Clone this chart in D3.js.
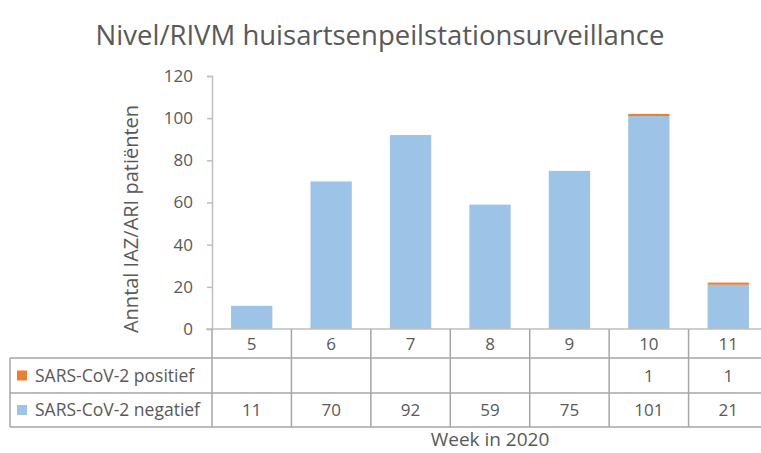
<!DOCTYPE html>
<html><head><meta charset="utf-8">
<script src="https://cdn.jsdelivr.net/npm/d3@7"></script>
<style>body{margin:0;background:#fff;} svg{display:block;} text{font-family:"Open Sans",sans-serif;fill:#595959;}</style>
</head><body><svg id="c" width="761" height="453"></svg>
<script>
const weeks = ["5","6","7","8","9","10","11"];
const positief = [0,0,0,0,0,1,1];
const negatief = [11,70,92,59,75,101,21];
const yTicks = [0,20,40,60,80,100,120];
const seriesNames = ["SARS-CoV-2 positief","SARS-CoV-2 negatief"];
const colors = {pos:"#ED7D31", neg:"#9DC3E6"};

(function(){
const svg = d3.select("#c");
const pL = 212, pR = 768, pT = 76, pB = 329;
const x = d3.scaleBand().domain(weeks).range([pL, pR]).paddingInner(0).paddingOuter(0);
const y = d3.scaleLinear().domain([0,120]).range([pB, pT]);
const bw = x.bandwidth()*0.52;

svg.append("text").attr("x",380).attr("y",45).attr("text-anchor","middle")
  .style("font-size","27.5px").text("Nivel/RIVM huisartsenpeilstationsurveillance");

const g = svg.append("g");
weeks.forEach((w,i)=>{
  const cx = x(w)+x.bandwidth()/2;
  g.append("rect").attr("x",cx-bw/2).attr("width",bw)
    .attr("y",y(negatief[i])).attr("height",y(0)-y(negatief[i])).attr("fill",colors.neg);
  if(positief[i]>0){
    g.append("rect").attr("x",cx-bw/2).attr("width",bw)
      .attr("y",y(negatief[i]+positief[i])).attr("height",y(negatief[i])-y(negatief[i]+positief[i])).attr("fill",colors.pos);
  }
});

const ya = svg.append("g").attr("transform",`translate(${pL},0)`)
  .call(d3.axisLeft(y).tickValues(yTicks).tickSize(5).tickPadding(14));
ya.select(".domain").attr("stroke","#bfbfbf").attr("stroke-width",1.5);
ya.selectAll(".tick line").attr("stroke","#bfbfbf").attr("stroke-width",1.5);
ya.selectAll(".tick text").style("font-size","17px").attr("fill","#595959").style("font-family","'Open Sans',sans-serif");

svg.append("text").attr("transform","translate(138,219) rotate(-90)").attr("text-anchor","middle")
  .style("font-size","20px").text("Anntal IAZ/ARI patiënten");

const rows = [329, 358, 393, 427];
const lineC = "#a6a6a6";
const tg = svg.append("g");
tg.append("line").attr("x1",206).attr("x2",pR).attr("y1",rows[0]).attr("y2",rows[0]).attr("stroke","#bfbfbf").attr("stroke-width",1.5);
[1,2,3].forEach(k=>{
  tg.append("line").attr("x1",10).attr("x2",pR).attr("y1",rows[k]).attr("y2",rows[k]).attr("stroke",lineC).attr("stroke-width",1.5);
});
tg.append("line").attr("x1",10).attr("x2",10).attr("y1",rows[1]).attr("y2",rows[3]).attr("stroke",lineC).attr("stroke-width",1.5);
weeks.concat(["_end"]).forEach((w,i)=>{
  const xx = i<weeks.length ? x(w) : pR;
  tg.append("line").attr("x1",xx).attr("x2",xx).attr("y1",rows[0]).attr("y2",rows[3]).attr("stroke",lineC).attr("stroke-width",1.5);
});
weeks.forEach((w,i)=>{
  const cx = x(w)+x.bandwidth()/2;
  tg.append("text").attr("x",cx).attr("y",(rows[0]+rows[1])/2+6).attr("text-anchor","middle").style("font-size","17px").text(w);
  if(positief[i]>0) tg.append("text").attr("x",cx).attr("y",(rows[1]+rows[2])/2+6).attr("text-anchor","middle").style("font-size","17px").text(positief[i]);
  tg.append("text").attr("x",cx).attr("y",(rows[2]+rows[3])/2+6).attr("text-anchor","middle").style("font-size","17px").text(negatief[i]);
});
[[colors.pos,seriesNames[0],1],[colors.neg,seriesNames[1],2]].forEach(([c,t,k])=>{
  const cy = (rows[k]+rows[k+1])/2;
  tg.append("rect").attr("x",17).attr("y",cy-5).attr("width",10).attr("height",10).attr("fill",c);
  tg.append("text").attr("x",35).attr("y",cy+6).style("font-size","17.5px").text(t);
});

svg.append("text").attr("x",490).attr("y",446).attr("text-anchor","middle").style("font-size","19px").text("Week in 2020");
})();
</script></body></html>
